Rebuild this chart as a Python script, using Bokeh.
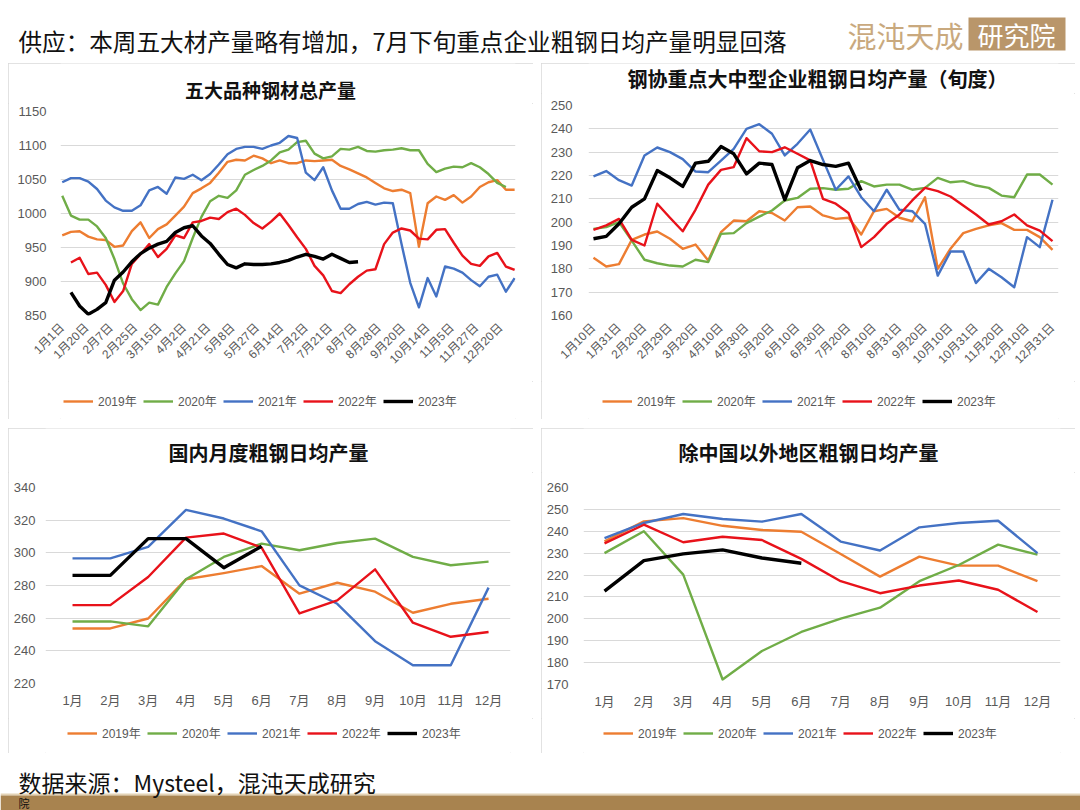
import math
from bokeh.plotting import figure
from bokeh.models import Range1d, FixedTicker, Legend, LegendItem, Spacer, ColumnDataSource
from bokeh.layouts import column, row
from bokeh.embed import file_html
from bokeh.resources import INLINE
from bokeh.core.properties import value

NaN = float("nan")

# ---------------- texts ----------------
HEADER_TITLE = "供应：本周五大材产量略有增加，7月下旬重点企业粗钢日均产量明显回落"
LOGO_MAIN = "混沌天成"
LOGO_BOX = "研究院"
SOURCE = "数据来源：Mysteel，混沌天成研究"
SOURCE_CUT = "院"

YEARS = ["2019年", "2020年", "2021年", "2022年", "2023年"]
COLORS = ["#ed7d31", "#70ad47", "#4472c4", "#e8121a", "#000000"]
LINE_W = [2.4, 2.4, 2.4, 2.4, 3.4]

# ---------------- panel 1: weekly five major steel products output ----------------
P1_TITLE = "五大品种钢材总产量"
P1_LABELS = ["1月1日", "1月20日", "2月7日", "2月25日", "3月15日", "4月2日", "4月21日",
             "5月8日", "5月27日", "6月14日", "7月2日", "7月21日", "8月7日", "8月28日",
             "9月20日", "10月14日", "11月5日", "11月27日", "12月20日"]
P1_YTICKS = [850, 900, 950, 1000, 1050, 1100, 1150]
P1_2019 = [968, 973, 974, 966, 962, 961, 951, 953, 974, 987, 964, 977, 984, 997, 1010, 1030,
           1037, 1045, 1060, 1076, 1079, 1078, 1085, 1081, 1074, 1078, 1074, 1074, 1078, 1077,
           1078, 1079, 1070, 1065, 1059, 1053, 1045, 1037, 1033, 1035, 1030, 951, 1015, 1025,
           1020, 1027, 1016, 1025, 1039, 1046, 1049, 1035, 1035]
P1_2020 = [1026, 997, 991, 991, 981, 964, 933, 897, 874, 858, 869, 866, 892, 912, 930, 964,
           995, 1018, 1026, 1023, 1034, 1057, 1064, 1070, 1078, 1090, 1094, 1105, 1107, 1088,
           1081, 1084, 1095, 1094, 1098, 1092, 1091, 1093, 1094, 1096, 1093, 1093, 1073, 1061,
           1066, 1069, 1068, 1074, 1068, 1058, 1045, 1039]
P1_2021 = [1046, 1052, 1052, 1047, 1036, 1019, 1009, 1004, 1004, 1012, 1034, 1039, 1029, 1053,
           1051, 1057, 1049, 1058, 1072, 1087, 1095, 1098, 1098, 1095, 1100, 1104, 1114, 1111,
           1060, 1049, 1068, 1034, 1007, 1007, 1014, 1017, 1013, 1016, 1015, 955, 898, 862,
           905, 878, 922, 919, 913, 902, 893, 907, 910, 885, 905]
P1_2022 = [NaN, 928, 935, 911, 913, 895, 870, 886, 926, 940, 955, 936, 948, 968, 964, 987, 989,
           994, 992, 1002, 1007, 998, 986, 978, 988, 1000, 983, 965, 948, 923, 909, 886, 883,
           896, 907, 916, 918, 955, 972, 978, 975, 963, 962, 976, 977, 957, 938, 926, 923, 937,
           942, 922, 917]
P1_2023 = [NaN, 884, 864, 852, 859, 869, 902, 914, 929, 941, 949, 955, 959, 972, 979, 982, 967,
           956, 940, 925, 920, 926, 925, 925, 926, 928, 931, 936, 940, 937, 933, 940, 934, 928, 929]

# ---------------- panel 2: CISA key enterprises daily crude steel (10-day) ----------------
P2_TITLE = "钢协重点大中型企业粗钢日均产量（旬度）"
P2_LABELS = ["1月10日", "1月31日", "2月20日", "2月29日", "3月20日", "4月10日", "4月30日",
             "5月20日", "6月10日", "6月30日", "7月20日", "8月10日", "8月31日", "9月20日",
             "10月10日", "10月31日", "11月20日", "12月10日", "12月31日"]
P2_YTICKS = [160, 170, 180, 190, 200, 210, 220, 230, 240, 250]
P2_2019 = [184.7, 181, 182, 192.4, 194.7, 196, 192.9, 188.6, 190.4, 183.6, 195.7, 200.7, 200.4,
           204.7, 203.9, 200.7, 206.4, 206.7, 202.9, 201.4, 201.9, 194.7, 204.7, 205.7, 201.9,
           200.4, 210.7, 180, 188.6, 195.3, 197.1, 198.6, 199.6, 196.7, 196.7, 193.6, 188.1]
P2_2020 = [197.1, 197.9, 200, 192.1, 183.9, 182.4, 181.4, 181, 183.9, 182.9, 195, 195.3, 199.6,
           202.4, 205, 209.3, 210.4, 214.3, 214.6, 213.9, 214.3, 217.6, 215.3, 216.1, 216.1,
           213.9, 214.7, 219, 217.1, 217.6, 215.7, 214.7, 211.4, 210.7, 220.4, 220.4, 216.1]
P2_2021 = [219.6, 221.9, 218, 215.7, 228.6, 232, 230, 227, 221.7, 221.4, 226.4, 231.4, 240, 242,
           237.9, 228.6, 233.6, 239.7, 226.7, 213.9, 219.6, 210.7, 204.7, 213.9, 205.3, 204.7,
           199.3, 177.1, 187.4, 187.4, 173.9, 180, 176.4, 172.1, 193.6, 189.3, 209.6]
P2_2022 = [196.7, 198.6, 201.4, 192.4, 190, 207.9, 201.9, 196.1, 205.3, 216.1, 222.4, 223.6, 236,
           230.4, 230, 232.1, 229.3, 226.5, 210, 207.9, 203.9, 189.3, 193.6, 199.3, 203.3, 209.3,
           214.7, 213.3, 211, 207.1, 203.3, 199, 200.4, 203.3, 198.6, 196.4, 191.9]
P2_2023 = [192.9, 193.9, 199.3, 206.4, 210, 222.1, 219, 215.3, 225.3, 226.1, 232.4, 229.3, 220.7,
           225.3, 224.7, 209.6, 223.3, 226.4, 224.7, 223.9, 225.3, 213.6]

# ---------------- panel 3 / 4: monthly ----------------
MONTHS = ["1月", "2月", "3月", "4月", "5月", "6月", "7月", "8月", "9月", "10月", "11月", "12月"]
P3_TITLE = "国内月度粗钢日均产量"
P3_YTICKS = [220, 240, 260, 280, 300, 320, 340]
P3_2019 = [253.7, 253.7, 259.8, 283.8, 287.6, 291.9, 275.0, 281.7, 276.2, 263.3, 268.8, 271.9]
P3_2020 = [258, 258, 255, 283.8, 297.5, 305.6, 301.6, 306, 308.7, 297.5, 292.4, 294.6]
P3_2021 = [296.6, 296.6, 303.6, 326.3, 321, 313.2, 280.1, 268.8, 245.9, 231.2, 231.2, 278.7]
P3_2022 = [268, 268, 285.2, 309.3, 311.8, 303.2, 262.9, 270.9, 289.9, 257.2, 248.6, 251.5]
P3_2023 = [286.2, 286.2, 308.7, 308.7, 290.9, 304]

P4_TITLE = "除中国以外地区粗钢日均产量"
P4_YTICKS = [170, 180, 190, 200, 210, 220, 230, 240, 250, 260]
P4_2019 = [235.4, 244.5, 246, 242.5, 240.6, 239.8, 229.6, 219.3, 228.4, 224.3, 224.3, 217.2]
P4_2020 = [230, 240, 220.2, 172.3, 185.3, 194, 200.1, 205.1, 217.2, 224.6, 233.9, 229.3]
P4_2021 = [236.9, 243.8, 247.9, 245.6, 244.4, 247.9, 235.3, 231.2, 241.8, 243.8, 244.8, 230]
P4_2022 = [234.5, 243, 235, 237.5, 236, 227.4, 217.2, 211.7, 215.2, 217.5, 213.3, 203.1]
P4_2023 = [212.7, 226.6, 229.7, 231.5, 227.8, 225.4]

CJK = "Noto Sans CJK SC"
TICKF = "Liberation Sans, Noto Sans CJK SC"
GREY = "#595959"
BORDER = {"outline": "1px solid #d9d9d9", "outline-offset": "-1px"}


def base_fig(w, h, flip=True, xr=None):
    yr = Range1d(h, 0) if flip else Range1d(0, h)
    xr = Range1d(0, w) if xr is None else Range1d(*xr)
    p = figure(width=w, height=h, x_range=xr, y_range=yr,
               output_backend="svg", toolbar_location=None, x_axis_type=None, y_axis_type=None,
               min_border=0)
    p.outline_line_color = None
    p.background_fill_color = "white"
    p.border_fill_color = "white"
    return p


# Strips stacked in a column with a plot share the plot's frame edges (fl .. w - fr),
# so their x range is set to those edges to keep x equal to the panel pixel position.
def title_strip(w, h, fl, fr, text, cx, cy, fs="20px"):
    p = base_fig(w, h, xr=(fl, w - fr))
    p.text(x=[cx], y=[cy], text=[text], text_align="center", text_baseline="middle",
           text_font=value(CJK), text_font_size=fs, text_font_style="bold",
           text_color="#111111")
    return p


def legend_strip(w, h, fl, fr, lx, ly):
    p = base_fig(w, h, flip=False, xr=(fl, w - fr))
    items = []
    for lab, col, lw in zip(YEARS, COLORS, LINE_W):
        # legend proxy: a line with a single missing value, so nothing is drawn in the strip
        src = ColumnDataSource(data=dict(x=[NaN], y=[NaN]))
        r = p.line("x", "y", source=src, line_color=col, line_width=lw)
        items.append(LegendItem(label=lab, renderers=[r]))
    leg = Legend(items=items, orientation="horizontal", location=(lx, ly),
                 label_text_font=TICKF, label_text_font_size="12px", label_text_color=GREY,
                 glyph_width=30, glyph_height=14, label_standoff=5, spacing=0,
                 label_width=45, label_height=16,
                 padding=0, margin=0, border_line_color=None, background_fill_alpha=0)
    p.add_layout(leg)
    return p


def plot_fig(w, h, fl, fr, ft, fb, xr, yr, yticks, xticks, xlabels, rotate, series,
             ystand, xstand, xfs):
    p = figure(width=w, height=h, x_range=Range1d(*xr), y_range=Range1d(*yr),
               output_backend="svg", toolbar_location=None,
               min_border_left=fl, min_border_right=fr, min_border_top=ft, min_border_bottom=fb)
    p.outline_line_color = None
    p.background_fill_color = "white"
    p.border_fill_color = "white"
    p.xgrid.visible = False
    p.ygrid.grid_line_color = "#d9d9d9"
    p.ygrid.grid_line_width = 1
    p.yaxis.ticker = FixedTicker(ticks=yticks)
    p.yaxis.axis_line_color = None
    p.yaxis.major_tick_line_color = None
    p.yaxis.minor_tick_line_color = None
    p.yaxis.major_label_text_font = TICKF
    p.yaxis.major_label_text_font_size = "13px"
    p.yaxis.major_label_text_color = GREY
    p.yaxis.major_label_standoff = ystand
    p.xaxis.ticker = FixedTicker(ticks=xticks)
    p.xaxis.major_label_overrides = {t: l for t, l in zip(xticks, xlabels)}
    p.xaxis.axis_line_color = None
    p.xaxis.major_tick_line_color = None
    p.xaxis.minor_tick_line_color = None
    p.xaxis.major_label_text_font = TICKF
    p.xaxis.major_label_text_font_size = xfs
    p.xaxis.major_label_text_color = GREY
    p.xaxis.major_label_standoff = xstand
    if rotate:
        p.xaxis.major_label_orientation = math.pi / 4
    for vals, col, lw in zip(series, COLORS, LINE_W):
        src = ColumnDataSource(data=dict(x=list(range(len(vals))), y=[float(v) for v in vals]))
        p.line("x", "y", source=src, line_color=col, line_width=lw, line_join="round")
    return p


def framed(*children):
    return column(*children, spacing=0, styles=BORDER)


# ---- top-left ----
tl_ticks = [round(k * 2.8, 3) for k in range(len(P1_LABELS))]
tl = framed(
    title_strip(525, 40, 52, 18, P1_TITLE, 262, 26, "19px"),
    plot_fig(525, 278, 52, 18, 8, 66, (-0.2, 52.1), (850, 1150), P1_YTICKS, tl_ticks,
             P1_LABELS, True, [P1_2019, P1_2020, P1_2021, P1_2022, P1_2023], 8, 4, "12px"),
    legend_strip(525, 38, 52, 18, 3, 10),
)

# ---- top-right ----
tr_ticks = [2 * k for k in range(len(P2_LABELS))]
tr = framed(
    title_strip(534, 30, 47, 17, P2_TITLE, 276, 15),
    plot_fig(534, 288, 47, 17, 12, 66, (-0.39, 36.47), (160, 250), P2_YTICKS, tr_ticks,
             P2_LABELS, True, [P2_2019, P2_2020, P2_2021, P2_2022, P2_2023], 10, 4, "12px"),
    legend_strip(534, 38, 47, 17, 14, 10),
)

# ---- bottom-left ----
m_ticks = list(range(len(MONTHS)))
bl = framed(
    title_strip(525, 44, 37, 23, P3_TITLE, 260, 24),
    plot_fig(525, 246, 37, 23, 15, 35, (-0.714, 11.58), (220, 340), P3_YTICKS, m_ticks,
             MONTHS, False, [P3_2019, P3_2020, P3_2021, P3_2022, P3_2023], 4, 3, "13px"),
    legend_strip(525, 35, 37, 23, 22, 12),
)

# ---- bottom-right ----
br = framed(
    title_strip(534, 44, 42, 15, P4_TITLE, 267, 24),
    plot_fig(534, 246, 42, 15, 15, 34, (-0.534, 11.585), (170, 260), P4_YTICKS, m_ticks,
             MONTHS, False, [P4_2019, P4_2020, P4_2021, P4_2022, P4_2023], 9, 3, "13px"),
    legend_strip(534, 35, 42, 15, 20, 12),
)

# ---- header / footer ----
hdr = base_fig(1080, 63)
hdr.text(x=[18], y=[40], text=[HEADER_TITLE], text_font=value(CJK), text_font_size="23.6px",
         text_baseline="middle", text_color="#111111")
hdr.text(x=[847], y=[34], text=[LOGO_MAIN], text_font=value(CJK), text_font_size="29px",
         text_baseline="middle", text_color="#c9a97e")
hdr.quad(left=[968], right=[1065], top=[17], bottom=[50], fill_color="#b9966a", line_color=None)
hdr.text(x=[1016], y=[34], text=[LOGO_BOX], text_font=value(CJK), text_font_size="26px",
         text_baseline="middle", text_align="center", text_color="white")

ftr = base_fig(1080, 57)
ftr.quad(left=[0], right=[1080], top=[40], bottom=[42], fill_color="#e4d3b6", line_color=None)
ftr.quad(left=[0], right=[1080], top=[42], bottom=[57], fill_color="#a8834f", line_color=None)
ftr.text(x=[18], y=[28], text=[SOURCE], text_font=value(CJK), text_font_size="23px",
         text_baseline="middle", text_color="#111111")
ftr.text(x=[18], y=[49.5], text=[SOURCE_CUT], text_font=value(CJK), text_font_size="11px",
         text_baseline="middle", text_color="#111111")

row1 = row(Spacer(width=8, height=356), tl, Spacer(width=8, height=356), tr)
row2 = row(Spacer(width=8, height=325), bl, Spacer(width=8, height=325), br)
layout = column(hdr, row1, Spacer(width=1080, height=9), row2, ftr)

open("out.html", "w").write(file_html(layout, INLINE))
